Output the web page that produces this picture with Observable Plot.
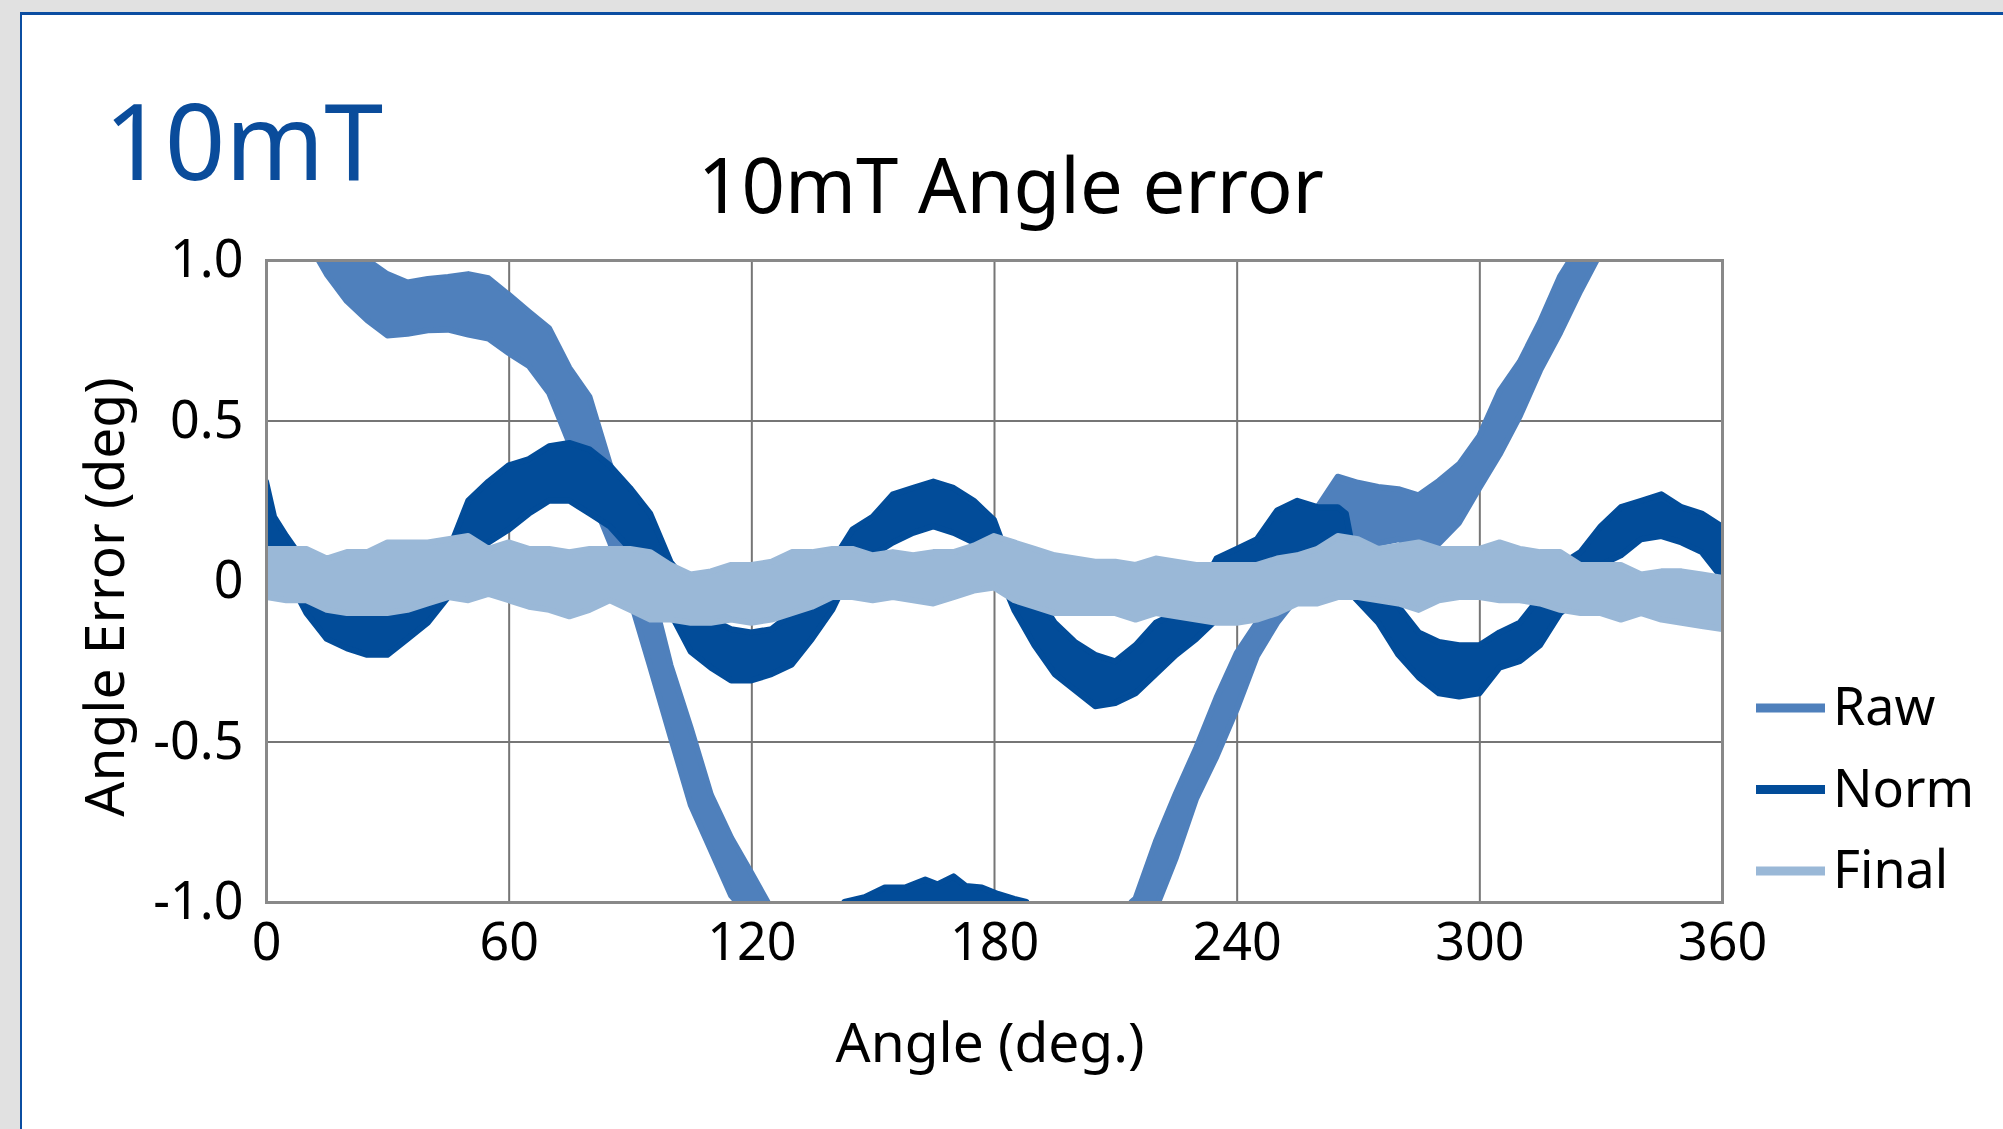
<!DOCTYPE html>
<html>
<head>
<meta charset="utf-8">
<script src="https://cdn.jsdelivr.net/npm/d3@7"></script>
<script src="https://cdn.jsdelivr.net/npm/@observablehq/plot@0.6"></script>
<style>
  html, body { margin: 0; padding: 0; width: 2003px; height: 1129px; overflow: hidden; background: #e1e1e1; font-family: "Noto Sans", sans-serif; }
  #panel { position: absolute; left: 20px; top: 12px; width: 2100px; height: 1200px; background: #fff; border-left: 2px solid #0b4da1; border-top: 3px solid #0b4da1; }
  #chart { position: absolute; left: 0; top: 0; }
  #overlay { position: absolute; left: 0; top: 0; pointer-events: none; }
</style>
</head>
<body>
<div id="panel"></div>
<div id="chart"></div>
<svg id="overlay" width="2003" height="1129"></svg>
<script>
// ---------- data ----------
const seriesNames  = ["Raw", "Norm", "Final"];
const seriesColors = ["#4f80bc", "#024c99", "#9ab8d7"];

const xTicks = [0, 60, 120, 180, 240, 300, 360];
const xTickLabels = ["0", "60", "120", "180", "240", "300", "360"];
const yTicks = [-1, -0.5, 0, 0.5, 1];
const yTickLabels = ["-1.0", "-0.5", "0", "0.5", "1.0"];
const yDomain = [-1, 1];
const xDomain = [0, 360];

const chartTitle = "10mT Angle error";
const panelLabel = "10mT";
const xTitle = "Angle (deg.)";
const yTitle = "Angle Error (deg)";

// Final: upper / lower edge of the band, every 5 degrees
const finalAngle = [0,5,10,15,20,25,30,35,40,45,50,55,60,65,70,75,80,85,90,95,100,105,110,115,120,125,130,135,140,145,150,155,160,165,170,175,180,185,190,195,200,205,210,215,220,225,230,235,240,245,250,255,260,265,270,275,280,285,290,295,300,305,310,315,320,325,330,335,340,345,350,355,360];
const finalHi = [0.10,0.10,0.10,0.07,0.09,0.09,0.12,0.12,0.12,0.13,0.14,0.10,0.12,0.10,0.10,0.09,0.10,0.10,0.10,0.09,0.05,0.02,0.03,0.05,0.05,0.06,0.09,0.09,0.10,0.10,0.08,0.09,0.08,0.09,0.09,0.11,0.14,0.12,0.10,0.08,0.07,0.06,0.06,0.05,0.07,0.06,0.05,0.05,0.05,0.05,0.07,0.08,0.10,0.14,0.13,0.10,0.11,0.12,0.10,0.10,0.10,0.12,0.10,0.09,0.09,0.05,0.05,0.05,0.02,0.03,0.03,0.02,0.01];
const finalLo = [-0.05,-0.06,-0.06,-0.09,-0.10,-0.10,-0.10,-0.09,-0.07,-0.05,-0.06,-0.04,-0.06,-0.08,-0.09,-0.11,-0.09,-0.06,-0.09,-0.12,-0.12,-0.13,-0.13,-0.12,-0.13,-0.12,-0.10,-0.08,-0.05,-0.05,-0.06,-0.05,-0.06,-0.07,-0.05,-0.03,-0.02,-0.06,-0.08,-0.10,-0.10,-0.10,-0.10,-0.12,-0.10,-0.11,-0.12,-0.13,-0.13,-0.12,-0.10,-0.07,-0.07,-0.05,-0.05,-0.06,-0.07,-0.09,-0.06,-0.05,-0.05,-0.06,-0.06,-0.07,-0.09,-0.10,-0.10,-0.12,-0.10,-0.12,-0.13,-0.14,-0.15];

// Norm: upper / lower edge of the band
const normAngle = [0,2,5,10,15,20,25,30,35,40,45,50,55,60,65,70,75,80,85,90,95,100,105,110,115,120,125,130,135,140,145,150,155,160,165,170,175,180,185,190,195,200,205,210,215,220,225,230,235,240,245,250,255,260,265,267,269,275,280,285,290,295,300,305,310,315,320,325,330,335,340,345,350,355,360];
const normHi = [0.31,0.20,0.14,0.05,-0.02,-0.05,-0.06,-0.07,-0.05,0.00,0.09,0.25,0.31,0.36,0.38,0.42,0.43,0.41,0.36,0.29,0.21,0.06,-0.02,-0.12,-0.15,-0.16,-0.15,-0.10,-0.05,0.06,0.16,0.20,0.27,0.29,0.31,0.29,0.25,0.19,0.02,-0.03,-0.13,-0.19,-0.23,-0.25,-0.20,-0.13,-0.10,-0.05,0.07,0.10,0.13,0.22,0.25,0.23,0.23,0.21,0.08,-0.01,-0.08,-0.16,-0.19,-0.20,-0.20,-0.16,-0.13,-0.05,0.05,0.09,0.17,0.23,0.25,0.27,0.23,0.21,0.17];
const normLo = [0.12,0.08,0.02,-0.10,-0.18,-0.21,-0.23,-0.23,-0.18,-0.13,-0.05,0.09,0.12,0.16,0.21,0.25,0.25,0.21,0.17,0.10,0.05,-0.10,-0.22,-0.27,-0.31,-0.31,-0.29,-0.26,-0.18,-0.09,0.04,0.08,0.12,0.15,0.17,0.15,0.12,0.06,-0.09,-0.20,-0.29,-0.34,-0.39,-0.38,-0.35,-0.29,-0.23,-0.18,-0.12,-0.05,0.00,0.06,0.08,0.10,0.12,0.11,-0.05,-0.13,-0.23,-0.30,-0.35,-0.36,-0.35,-0.27,-0.25,-0.20,-0.10,-0.05,0.05,0.08,0.13,0.14,0.12,0.09,0.01];

// Norm fragment visible along the bottom edge (upper edge only)
const normLowAngle = [143,148,153,158,163,166,170,173,177,181,185,188];
const normLowHi = [-1.0,-0.985,-0.955,-0.955,-0.93,-0.945,-0.92,-0.95,-0.955,-0.975,-0.99,-1.0];

// Raw: upper / lower edge (null = outside the visible range)
const rawAngle = [13,15,20,25,30,35,40,45,50,55,60,65,70,75,80,85,90,95,100,105,110,115,120,124,170,214,215,220,225,230,235,240,245,250,255,260,265,270,275,280,285,290,295,300,305,310,315,320,325,329];
const rawHi = [1.02,1.05,1.03,1.00,0.956,0.930,0.941,0.947,0.956,0.943,0.892,0.839,0.787,0.664,0.573,0.364,0.203,-0.012,-0.262,-0.458,-0.666,-0.80,-0.91,-1.00,null,-1.00,-0.989,-0.812,-0.661,-0.520,-0.364,-0.225,-0.13,-0.05,0.10,0.23,0.325,0.306,0.293,0.286,0.267,0.312,0.364,0.452,0.592,0.683,0.807,0.95,1.05,1.02];
const rawLo = [1.00,0.956,0.872,0.813,0.765,0.770,0.781,0.783,0.768,0.755,0.710,0.670,0.586,0.430,0.276,0.122,-0.055,-0.267,-0.483,-0.697,-0.838,-0.98,-1.05,-1.02,null,-1.02,-1.1,-1.02,-0.861,-0.677,-0.547,-0.40,-0.234,-0.13,-0.05,0.08,0.13,0.117,0.117,0.13,0.104,0.117,0.182,0.29,0.394,0.514,0.656,0.774,0.904,1.00];

// ---------- build tables ----------
const band = (angles, his, los) => angles.map((a, i) => ({angle: a, hi: his[i], lo: los[i]}));
const rawRows = band(rawAngle, rawHi, rawLo);
const normRows = band(normAngle, normHi, normLo);
const normLowRows = normLowAngle.map((a, i) => ({angle: a, hi: normLowHi[i], lo: yDomain[0] - 0.05}));
const finalRows = band(finalAngle, finalHi, finalLo);

const gridStyle = {stroke: "#767676", strokeOpacity: 1, strokeWidth: 2};
const areaOpts = (c) => ({x: "angle", y1: "lo", y2: "hi", fill: c, stroke: c, strokeWidth: 6, strokeLinejoin: "round", clip: true});

const chart = Plot.plot({
  width: 2003,
  height: 1129,
  marginLeft: 266,
  marginRight: 281,
  marginTop: 260,
  marginBottom: 227,
  style: {background: "transparent", fontFamily: "'Noto Sans', sans-serif", color: "#000", overflow: "visible", maxWidth: "none"},
  x: {domain: xDomain},
  y: {domain: yDomain},
  marks: [
    Plot.gridX(xTicks, gridStyle),
    Plot.gridY(yTicks, gridStyle),
    Plot.areaY(rawRows, areaOpts(seriesColors[0])),
    Plot.areaY(normRows, areaOpts(seriesColors[1])),
    Plot.areaY(normLowRows, areaOpts(seriesColors[1])),
    Plot.areaY(finalRows, areaOpts(seriesColors[2])),
    Plot.frame({stroke: "#898989", strokeWidth: 3}),
    Plot.axisX({ticks: xTicks, tickSize: 0, tickPadding: 21, fontSize: 52, label: null,
      tickFormat: d => xTickLabels[xTicks.indexOf(d)]}),
    Plot.axisY({ticks: yTicks, tickSize: 0, tickPadding: 23, fontSize: 52, label: null,
      tickFormat: d => yTickLabels[yTicks.indexOf(d)]})
  ]
});
document.getElementById("chart").appendChild(chart);

// ---------- titles, axis titles, legend ----------
const ov = d3.select("#overlay");
ov.append("text").text(panelLabel)
  .attr("x", 104).attr("y", 180)
  .attr("font-family", "Noto Sans").attr("font-size", 106).attr("fill", "#0a4c9b");
ov.append("text").text(chartTitle)
  .attr("x", 1011).attr("y", 213).attr("text-anchor", "middle")
  .attr("font-family", "Noto Sans").attr("font-size", 76).attr("fill", "#000");
ov.append("text").text(xTitle)
  .attr("x", 990).attr("y", 1062).attr("text-anchor", "middle")
  .attr("font-family", "Noto Sans").attr("font-size", 55).attr("fill", "#000");
ov.append("text").text(yTitle)
  .attr("transform", "translate(124,597) rotate(-90)").attr("text-anchor", "middle")
  .attr("font-family", "Noto Sans").attr("font-size", 55).attr("fill", "#000");

const leg = ov.append("g");
seriesNames.forEach((name, i) => {
  const cy = 708 + i * 81.5;
  leg.append("line").attr("x1", 1756).attr("x2", 1825).attr("y1", cy).attr("y2", cy)
    .attr("stroke", seriesColors[i]).attr("stroke-width", 9);
  leg.append("text").text(name).attr("x", 1833).attr("y", cy + 17)
    .attr("font-family", "Noto Sans").attr("font-size", 52).attr("fill", "#000");
});
</script>
</body>
</html>
